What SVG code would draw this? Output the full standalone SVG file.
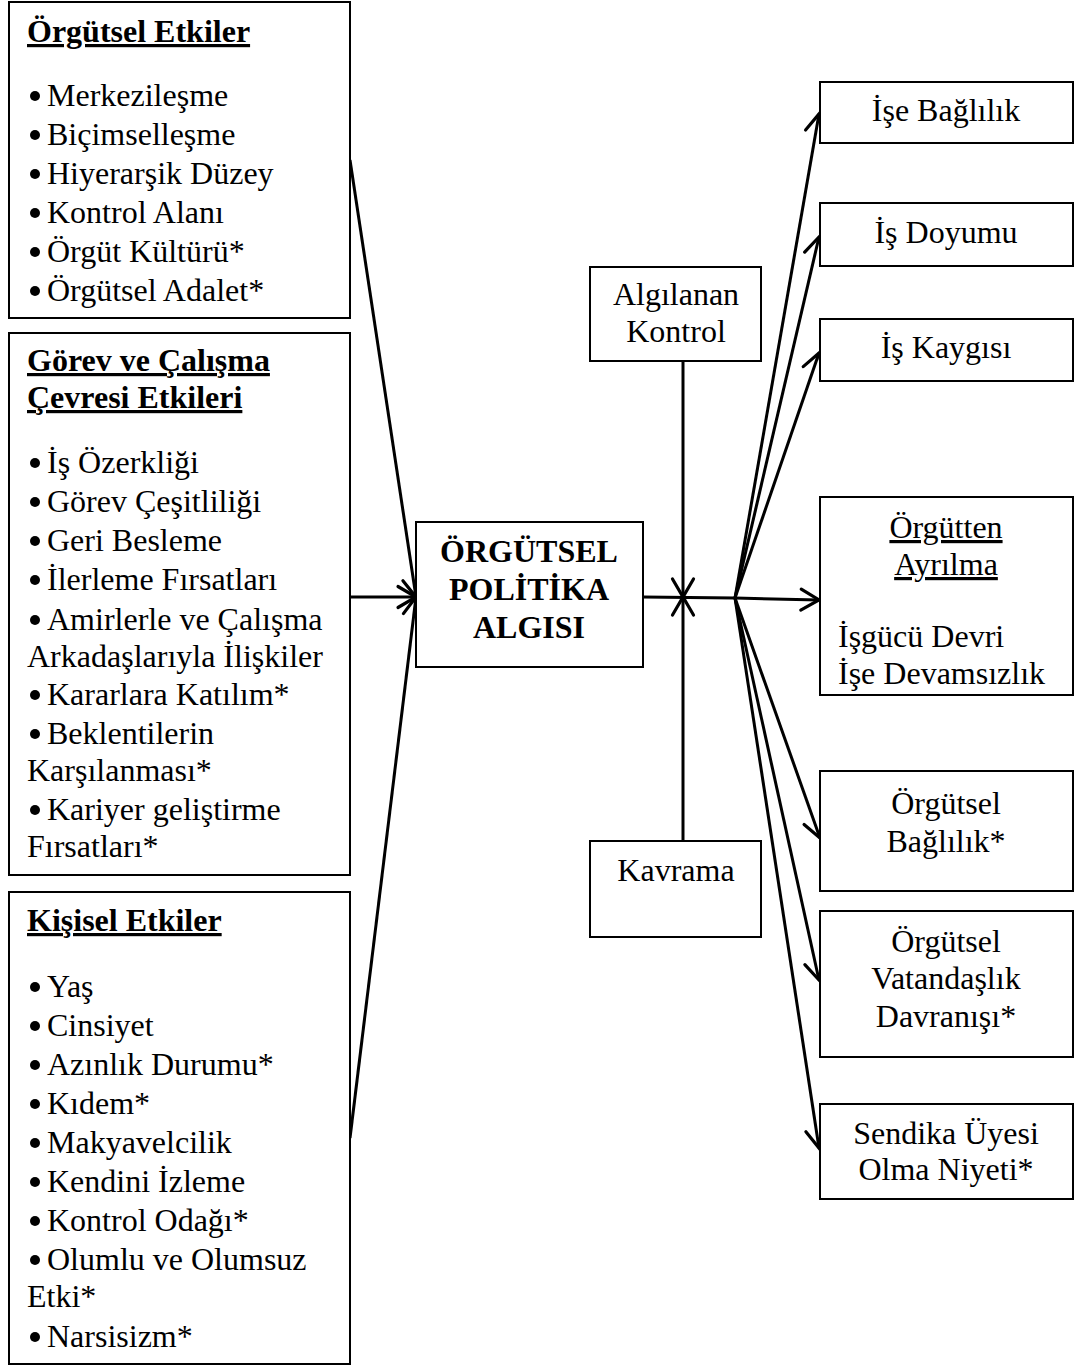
<svg xmlns="http://www.w3.org/2000/svg" width="1075" height="1366" viewBox="0 0 1075 1366">
  <style>
    text { font-family: "Liberation Serif", "Times New Roman", serif; font-size: 32px; fill: #000; }
    .title { font-weight: bold; text-decoration: underline; }
    .bold { font-weight: bold; }
    .u { text-decoration: underline; }
    .mid { text-anchor: middle; }
    .box { fill: #fff; stroke: #000; stroke-width: 2; }
    .link { fill: none; stroke: #000; stroke-width: 3; }
    .dot { fill: #000; }
  </style>
  <defs>
    <marker id="arrow" viewBox="0 0 24 24" refX="22" refY="12" markerWidth="24" markerHeight="24" markerUnits="userSpaceOnUse" orient="auto" overflow="visible">
      <path d="M4,1.5 L22,12 L4,22.5" fill="none" stroke="#000" stroke-width="3.2" stroke-linecap="round" stroke-linejoin="miter"/>
    </marker>
  </defs>

  <rect width="1075" height="1366" fill="#fff"/>

  <!-- connectors -->
  <g id="connectors">
    <line class="link" x1="350" y1="160" x2="416" y2="597" marker-end="url(#arrow)"/>
    <line class="link" x1="350" y1="597" x2="416" y2="597" marker-end="url(#arrow)"/>
    <line class="link" x1="350" y1="1138" x2="416" y2="597" marker-end="url(#arrow)"/>
    <line class="link" x1="683" y1="361" x2="683" y2="597" marker-end="url(#arrow)"/>
    <line class="link" x1="683" y1="841" x2="683" y2="597" marker-end="url(#arrow)"/>
    <polyline class="link" points="643,597 735,598 819,600" marker-end="url(#arrow)"/>
    <line class="link" x1="735" y1="598" x2="819" y2="114" marker-end="url(#arrow)"/>
    <line class="link" x1="735" y1="598" x2="819" y2="237" marker-end="url(#arrow)"/>
    <line class="link" x1="735" y1="598" x2="819" y2="353" marker-end="url(#arrow)"/>
    <line class="link" x1="735" y1="598" x2="820" y2="838" marker-end="url(#arrow)"/>
    <line class="link" x1="735" y1="598" x2="819" y2="980" marker-end="url(#arrow)"/>
    <line class="link" x1="735" y1="598" x2="819" y2="1148" marker-end="url(#arrow)"/>
  </g>

  <!-- left column -->
  <g id="orgutsel-etkiler">
    <rect class="box" x="9" y="2" width="341" height="316"/>
    <text class="title" x="27" y="42">Örgütsel Etkiler</text>
    <circle class="dot" cx="35" cy="96" r="5"/><text x="47" y="106">Merkezileşme</text>
    <circle class="dot" cx="35" cy="135" r="5"/><text x="47" y="145">Biçimselleşme</text>
    <circle class="dot" cx="35" cy="174" r="5"/><text x="47" y="184">Hiyerarşik Düzey</text>
    <circle class="dot" cx="35" cy="213" r="5"/><text x="47" y="223">Kontrol Alanı</text>
    <circle class="dot" cx="35" cy="252" r="5"/><text x="47" y="262">Örgüt Kültürü*</text>
    <circle class="dot" cx="35" cy="291" r="5"/><text x="47" y="301">Örgütsel Adalet*</text>
  </g>

  <g id="gorev-etkileri">
    <rect class="box" x="9" y="333" width="341" height="542"/>
    <text class="title" x="27" y="371">Görev ve Çalışma</text>
    <text class="title" x="27" y="408">Çevresi Etkileri</text>
    <circle class="dot" cx="35" cy="463" r="5"/><text x="47" y="473">İş Özerkliği</text>
    <circle class="dot" cx="35" cy="502" r="5"/><text x="47" y="512">Görev Çeşitliliği</text>
    <circle class="dot" cx="35" cy="541" r="5"/><text x="47" y="551">Geri Besleme</text>
    <circle class="dot" cx="35" cy="580" r="5"/><text x="47" y="590">İlerleme Fırsatları</text>
    <circle class="dot" cx="35" cy="620" r="5"/><text x="47" y="630">Amirlerle ve Çalışma</text>
    <text x="27" y="667">Arkadaşlarıyla İlişkiler</text>
    <circle class="dot" cx="35" cy="695" r="5"/><text x="47" y="705">Kararlara Katılım*</text>
    <circle class="dot" cx="35" cy="734" r="5"/><text x="47" y="744">Beklentilerin</text>
    <text x="27" y="781">Karşılanması*</text>
    <circle class="dot" cx="35" cy="810" r="5"/><text x="47" y="820">Kariyer geliştirme</text>
    <text x="27" y="857">Fırsatları*</text>
  </g>

  <g id="kisisel-etkiler">
    <rect class="box" x="9" y="892" width="341" height="472"/>
    <text class="title" x="27" y="931">Kişisel Etkiler</text>
    <circle class="dot" cx="35" cy="987" r="5"/><text x="47" y="997">Yaş</text>
    <circle class="dot" cx="35" cy="1026" r="5"/><text x="47" y="1036">Cinsiyet</text>
    <circle class="dot" cx="35" cy="1065" r="5"/><text x="47" y="1075">Azınlık Durumu*</text>
    <circle class="dot" cx="35" cy="1104" r="5"/><text x="47" y="1114">Kıdem*</text>
    <circle class="dot" cx="35" cy="1143" r="5"/><text x="47" y="1153">Makyavelcilik</text>
    <circle class="dot" cx="35" cy="1182" r="5"/><text x="47" y="1192">Kendini İzleme</text>
    <circle class="dot" cx="35" cy="1221" r="5"/><text x="47" y="1231">Kontrol Odağı*</text>
    <circle class="dot" cx="35" cy="1260" r="5"/><text x="47" y="1270">Olumlu ve Olumsuz</text>
    <text x="27" y="1307">Etki*</text>
    <circle class="dot" cx="35" cy="1337" r="5"/><text x="47" y="1347">Narsisizm*</text>
  </g>

  <!-- centre -->
  <g id="politika-algisi">
    <rect class="box" x="416" y="522" width="227" height="145"/>
    <text class="bold mid" x="529" y="562">ÖRGÜTSEL</text>
    <text class="bold mid" x="529" y="600">POLİTİKA</text>
    <text class="bold mid" x="529" y="638">ALGISI</text>
  </g>

  <g id="algilanan-kontrol">
    <rect class="box" x="590" y="267" width="171" height="94"/>
    <text class="mid" x="676" y="305">Algılanan</text>
    <text class="mid" x="676" y="342">Kontrol</text>
  </g>

  <g id="kavrama">
    <rect class="box" x="590" y="841" width="171" height="96"/>
    <text class="mid" x="676" y="881">Kavrama</text>
  </g>

  <!-- outcomes -->
  <g id="ise-baglilik">
    <rect class="box" x="820" y="82" width="253" height="61"/>
    <text class="mid" x="946" y="121">İşe Bağlılık</text>
  </g>
  <g id="is-doyumu">
    <rect class="box" x="820" y="203" width="253" height="63"/>
    <text class="mid" x="946" y="243">İş Doyumu</text>
  </g>
  <g id="is-kaygisi">
    <rect class="box" x="820" y="319" width="253" height="62"/>
    <text class="mid" x="946" y="358">İş Kaygısı</text>
  </g>
  <g id="orgutten-ayrilma">
    <rect class="box" x="820" y="497" width="253" height="198"/>
    <text class="mid u" x="946" y="538">Örgütten</text>
    <text class="mid u" x="946" y="575">Ayrılma</text>
    <text x="838" y="647">İşgücü Devri</text>
    <text x="838" y="684">İşe Devamsızlık</text>
  </g>
  <g id="orgutsel-baglilik">
    <rect class="box" x="820" y="771" width="253" height="120"/>
    <text class="mid" x="946" y="814">Örgütsel</text>
    <text class="mid" x="946" y="852">Bağlılık*</text>
  </g>
  <g id="vatandaslik">
    <rect class="box" x="820" y="911" width="253" height="146"/>
    <text class="mid" x="946" y="952">Örgütsel</text>
    <text class="mid" x="946" y="989">Vatandaşlık</text>
    <text class="mid" x="946" y="1027">Davranışı*</text>
  </g>
  <g id="sendika">
    <rect class="box" x="820" y="1104" width="253" height="95"/>
    <text class="mid" x="946" y="1144">Sendika Üyesi</text>
    <text class="mid" x="946" y="1180">Olma Niyeti*</text>
  </g>
</svg>
